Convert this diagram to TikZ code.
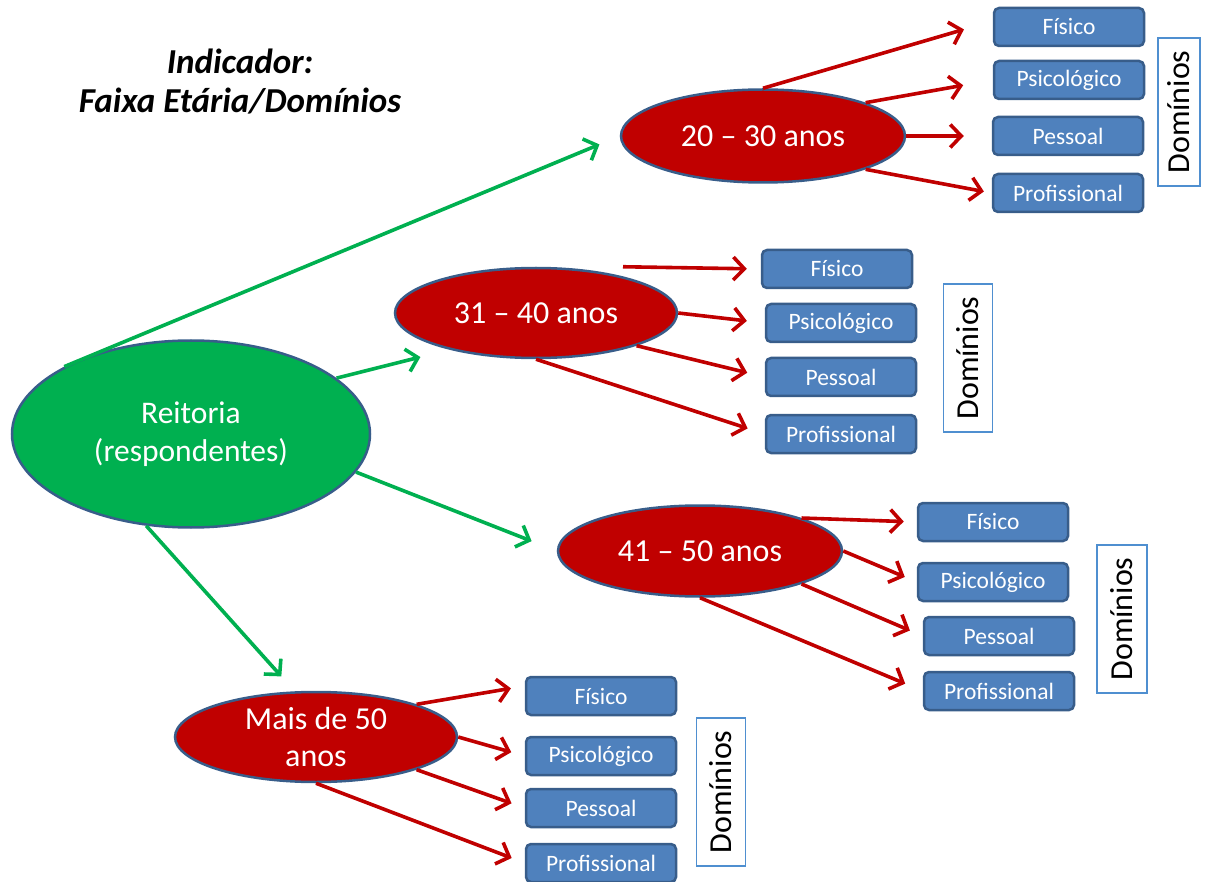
\documentclass[tikz,border=0pt]{standalone}
\usepackage{fontspec}
\setmainfont{Carlito}
\usetikzlibrary{arrows.meta,shapes.geometric}

\definecolor{agered}{HTML}{C00000}
\definecolor{rootgreen}{HTML}{00B050}
\definecolor{edgeblue}{HTML}{385D8A}
\definecolor{boxblue}{HTML}{4F81BD}
\definecolor{tagblue}{HTML}{4F8FD0}

\begin{document}
\begin{tikzpicture}[x=1pt,y=-1pt,
  rootnode/.style={ellipse, draw=edgeblue, line width=2.5pt, fill=rootgreen, text=white,
    inner sep=0pt, align=center, font=\fontsize{31.5}{38}\selectfont},
  agenode/.style={ellipse, draw=edgeblue, line width=2.5pt, fill=agered, text=white,
    inner sep=0pt, align=center, font=\fontsize{32}{37}\selectfont},
  dombox/.style={rectangle, rounded corners=5pt, draw=edgeblue, line width=2.5pt,
    fill=boxblue, text=white, minimum width=150pt, minimum height=38pt,
    inner sep=0pt, font=\fontsize{23.5}{26}\selectfont},
  tagbox/.style={rectangle, draw=tagblue, line width=1.3pt, fill=white, text=black,
    rotate=90, minimum width=148pt, inner sep=0pt, font=\fontsize{32}{36}\selectfont},
  heading/.style={align=center, font=\fontsize{35}{39}\selectfont\bfseries\itshape},
  garrow/.style={draw=rootgreen, line width=3.6pt,
    -{Straight Barb[length=11pt,width=23pt,line width=3.6pt]}},
  rarrow/.style={draw=agered, line width=3.6pt,
    -{Straight Barb[length=11pt,width=23pt,line width=3.6pt]}},
]
\useasboundingbox (0,0) rectangle (1218,882);

% title
\node[heading] (title) at (240,82) {Indicador:\\Faixa Etária/Domínios};

% root and age groups
\node[rootnode, minimum width=358pt, minimum height=187pt] (r) at (191,434) {Reitoria\\(respondentes)};
\node[agenode, minimum width=284pt, minimum height=93pt] (e1) at (763,136) {20 – 30 anos};
\node[agenode, minimum width=282pt, minimum height=90pt] (e2) at (536,313) {31 – 40 anos};
\node[agenode, minimum width=284pt, minimum height=91pt] (e3) at (700,551) {41 – 50 anos};
\node[agenode, minimum width=282pt, minimum height=90pt] (e4) at (316,737) {Mais de 50\\anos};

% domains, 20-30
\node[dombox] (f1) at (1069,27)  {Físico};
\node[dombox] (p1) at (1069,80)  {Psicológico};
\node[dombox] (s1) at (1068,136) {Pessoal};
\node[dombox] (q1) at (1068,193) {Profissional};
\node[tagbox, minimum height=42pt] (d1) at (1179,112) {Domínios};

% domains, 31-40
\node[dombox] (f2) at (837,269) {Físico};
\node[dombox] (p2) at (841,323) {Psicológico};
\node[dombox] (s2) at (841,377) {Pessoal};
\node[dombox] (q2) at (841,434) {Profissional};
\node[tagbox, minimum height=49pt] (d2) at (968,358) {Domínios};

% domains, 41-50
\node[dombox] (f3) at (993,522) {Físico};
\node[dombox] (p3) at (993,582) {Psicológico};
\node[dombox] (s3) at (999,636) {Pessoal};
\node[dombox] (q3) at (999,691) {Profissional};
\node[tagbox, minimum height=50pt] (d3) at (1122,619) {Domínios};

% domains, over 50
\node[dombox] (f4) at (601,696) {Físico};
\node[dombox] (p4) at (601,756) {Psicológico};
\node[dombox] (s4) at (601,808) {Pessoal};
\node[dombox] (q4) at (601,863) {Profissional};
\node[tagbox, minimum height=49pt] (d4) at (721,792) {Domínios};

% root to age groups
\draw[garrow, shorten >=22pt] (r.152) -- (e1.west);
\draw[garrow, shorten >=30pt] (r.21) -- (e2.203);
\draw[garrow, shorten >=27pt] (r.-13) -- (e3.west);
\draw[garrow, shorten >=20pt] (r.-116) -- (e4.115);

% 20-30
\draw[rarrow, shorten >=30pt] (e1.north) -- ([yshift=6pt]f1.west);
\draw[rarrow, shorten >=30pt] (e1.18) -- (p1.west);
\draw[rarrow, shorten >=28pt] (e1.east) -- (s1.west);
\draw[rarrow, shorten >=8pt] (e1.-18) -- (q1.west);

% 31-40
\draw[rarrow, shorten >=14pt] ([xshift=87pt]e2.north) -- (f2.west);
\draw[rarrow, shorten >=18pt] (e2.east) -- (p2.west);
\draw[rarrow, shorten >=18pt] (e2.-18) -- (s2.west);
\draw[rarrow, shorten >=18pt] (e2.south) -- (q2.west);

% 41-50
\draw[rarrow, shorten >=13pt] (e3.18) -- (f3.west);
\draw[rarrow, shorten >=13pt] (e3.east) -- (p3.west);
\draw[rarrow, shorten >=14pt] (e3.-18) -- (s3.west);
\draw[rarrow, shorten >=19pt] (e3.south) -- (q3.west);

% over 50
\draw[rarrow, shorten >=14pt] (e4.18) -- ([yshift=10pt]f4.west);
\draw[rarrow, shorten >=14pt] (e4.east) -- (p4.west);
\draw[rarrow, shorten >=14pt] (e4.-18) -- (s4.west);
\draw[rarrow, shorten >=14pt] (e4.south) -- (q4.west);
\end{tikzpicture}
\end{document}
